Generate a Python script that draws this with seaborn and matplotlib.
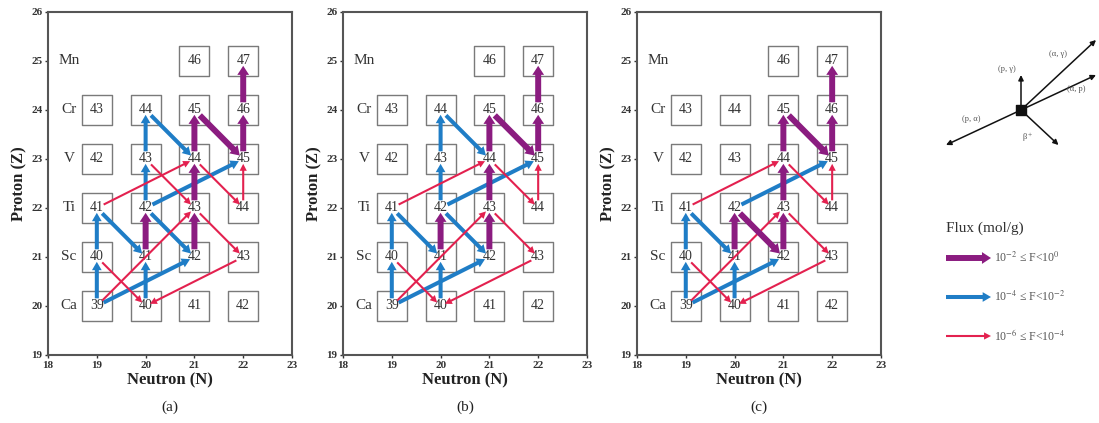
"""
Reaction flux network near the Ca-Mn region, three scenarios (a)-(c),
with a reaction key and flux legend on the right.
"""

import numpy as np
import pandas as pd
import matplotlib
matplotlib.use('Agg')
import matplotlib.pyplot as plt
import seaborn as sns
from matplotlib.patches import FancyArrowPatch

# Nuclide boxes on the chart (neutron number N, proton number Z, mass A)
elements = ['Ca', 'Sc', 'Ti', 'V', 'Cr', 'Mn']
element_z = [20, 21, 22, 23, 24, 25]
box_element = ['Ca'] * 4 + ['Sc'] * 4 + ['Ti'] * 4 + ['V'] * 4 + ['Cr'] * 4 + ['Mn'] * 2
box_n = [19, 20, 21, 22] * 5 + [21, 22]
box_z = [20] * 4 + [21] * 4 + [22] * 4 + [23] * 4 + [24] * 4 + [25] * 2
box_mass = [39, 40, 41, 42,
            40, 41, 42, 43,
            41, 42, 43, 44,
            42, 43, 44, 45,
            43, 44, 45, 46,
            46, 47]

# Flux arrows per panel: (from, to, flux class)
flows_a = [
    ('Sc41', 'Ti42', 'high'), ('Sc42', 'Ti43', 'high'), ('Ti43', 'V44', 'high'),
    ('V44', 'Cr45', 'high'), ('Cr45', 'V45', 'high'), ('V45', 'Cr46', 'high'),
    ('Cr46', 'Mn47', 'high'),
    ('Ca39', 'Sc40', 'mid'), ('Sc40', 'Ti41', 'mid'), ('Ti41', 'Sc41', 'mid'),
    ('Ca40', 'Sc41', 'mid'), ('Ca39', 'Sc42', 'mid'), ('Ti42', 'V43', 'mid'),
    ('V43', 'Cr44', 'mid'), ('Cr44', 'V44', 'mid'), ('Ti42', 'Sc42', 'mid'),
    ('Ti42', 'V45', 'mid'),
    ('Ti41', 'V44', 'low'), ('Ca39', 'Ti43', 'low'), ('Sc40', 'Ca40', 'low'),
    ('Sc43', 'Ca40', 'low'), ('Ti43', 'Sc43', 'low'), ('V43', 'Ti43', 'low'),
    ('V44', 'Ti44', 'low'), ('Ti44', 'V45', 'low'),
]
flows_b = [
    ('Sc41', 'Ti42', 'high'), ('Sc42', 'Ti43', 'high'), ('Ti43', 'V44', 'high'),
    ('V44', 'Cr45', 'high'), ('Cr45', 'V45', 'high'), ('V45', 'Cr46', 'high'),
    ('Cr46', 'Mn47', 'high'),
    ('Ca39', 'Sc40', 'mid'), ('Sc40', 'Ti41', 'mid'), ('Ti41', 'Sc41', 'mid'),
    ('Ca40', 'Sc41', 'mid'), ('Ca39', 'Sc42', 'mid'), ('Ti42', 'V43', 'mid'),
    ('V43', 'Cr44', 'mid'), ('Cr44', 'V44', 'mid'), ('Ti42', 'Sc42', 'mid'),
    ('Ti42', 'V45', 'mid'),
    ('Ti41', 'V44', 'low'), ('Ca39', 'Ti43', 'low'), ('Sc40', 'Ca40', 'low'),
    ('Sc43', 'Ca40', 'low'), ('Ti43', 'Sc43', 'low'),
    ('V44', 'Ti44', 'low'), ('Ti44', 'V45', 'low'),
]
flows_c = [
    ('Sc41', 'Ti42', 'high'), ('Ti42', 'Sc42', 'high'), ('Sc42', 'Ti43', 'high'),
    ('Ti43', 'V44', 'high'), ('V44', 'Cr45', 'high'), ('Cr45', 'V45', 'high'),
    ('V45', 'Cr46', 'high'), ('Cr46', 'Mn47', 'high'),
    ('Ca39', 'Sc40', 'mid'), ('Sc40', 'Ti41', 'mid'), ('Ti41', 'Sc41', 'mid'),
    ('Ca40', 'Sc41', 'mid'), ('Ca39', 'Sc42', 'mid'), ('Ti42', 'V45', 'mid'),
    ('Ti41', 'V44', 'low'), ('Ca39', 'Ti43', 'low'), ('Sc40', 'Ca40', 'low'),
    ('Sc43', 'Ca40', 'low'), ('Ti43', 'Sc43', 'low'),
    ('V44', 'Ti44', 'low'), ('Ti44', 'V45', 'low'),
]
panel_labels = ['(a)', '(b)', '(c)']

# Reaction key: change in N and Z for each reaction type
react_labels = ['(p, γ)', '(α, γ)', '(α, p)', '(p, α)', 'β$^+$']
react_dn = [0, 2, 2, -2, 1]
react_dz = [1, 2, 1, -1, -1]

# Flux legend
flux_levels = ['high', 'mid', 'low']
flux_texts = ['10$^{-2}$ ≤ F<10$^{0}$', '10$^{-4}$ ≤ F<10$^{-2}$', '10$^{-6}$ ≤ F<10$^{-4}$']

# Styles
flux_style = {
    'high': dict(color='#8b1c80', tail=4.3, hw=8.5, hl=6.5, z=6),
    'mid': dict(color='#1f7dc6', tail=2.9, hw=7.0, hl=6.0, z=4),
    'low': dict(color='#e3214f', tail=1.5, hw=5.2, hl=5.0, z=5),
}

sns.set_theme(style='ticks')
plt.rcParams['font.family'] = ['Liberation Serif', 'DejaVu Serif']
plt.rcParams['mathtext.fontset'] = 'stix'

box_df = pd.DataFrame({'element': box_element, 'N': box_n, 'Z': box_z, 'A': box_mass})
pos = {f"{e}{a}": (n, z) for e, a, n, z in zip(box_element, box_mass, box_n, box_z)}


def add_arrow(ax, p0, p1, level, shrink_a=5.5, shrink_b=3.5):
    st = flux_style[level]
    style = f"simple,head_length={st['hl']},head_width={st['hw']},tail_width={st['tail']}"
    arr = FancyArrowPatch(p0, p1, arrowstyle=style, mutation_scale=1,
                          shrinkA=shrink_a, shrinkB=shrink_b,
                          color=st['color'], lw=0, zorder=st['z'])
    ax.add_patch(arr)


def draw_panel(ax, flows, label):
    sns.scatterplot(data=box_df, x='N', y='Z', marker='s', s=445,
                    facecolors='white', edgecolors='#7a7a7a', linewidth=1.0,
                    legend=False, ax=ax, zorder=2)
    for _, r in box_df.iterrows():
        ax.text(r['N'], r['Z'], str(r['A']), ha='center', va='center',
                fontsize=10, color='#333333', zorder=3)
    for el, z in zip(elements, element_z):
        ax.text(18.43, z, el, ha='center', va='center', fontsize=11,
                color='#333333', zorder=3)
    for src, dst, level in flows:
        add_arrow(ax, pos[src], pos[dst], level)

    ax.set_xlim(18, 23)
    ax.set_ylim(19, 26)
    ax.set_xticks(range(18, 24))
    ax.set_yticks(range(19, 27))
    ax.tick_params(direction='out', length=2.5, width=1, labelsize=8,
                   pad=1.5, colors='#333333')
    for t in ax.get_xticklabels() + ax.get_yticklabels():
        t.set_fontweight('bold')
    for sp in ax.spines.values():
        sp.set_visible(True)
        sp.set_linewidth(1.5)
        sp.set_color('#555555')
    ax.set_xlabel('Neutron (N)', fontsize=12, fontweight='bold', labelpad=2, color='#222222')
    ax.set_ylabel('Proton (Z)', fontsize=12, fontweight='bold', labelpad=3, color='#222222')
    ax.text(0.5, -0.152, label, transform=ax.transAxes, ha='center', va='center',
            fontsize=11, color='#222222')


fig = plt.figure(figsize=(10.99, 4.23), dpi=100)
panel_left = [0.0437, 0.3121, 0.5796]
for left, flows, label in zip(panel_left, [flows_a, flows_b, flows_c], panel_labels):
    ax = fig.add_axes([left, 0.1608, 0.222, 0.8109])
    draw_panel(ax, flows, label)

# Key area in pixel-like coordinates
key = fig.add_axes([920 / 1099, 0, 179 / 1099, 1])
key.set_xlim(920, 1099)
key.set_ylim(423, 0)
key.axis('off')

# Reaction schematic
cx, cy = 1021, 110
sx, sy = 37.5, 35
label_off = [(-14, -22), (-4, -18), (14, -2), (-8, -10), (-14, 8)]
for lab, dn, dz, (ox, oy) in zip(react_labels, react_dn, react_dz, label_off):
    ex, ey = cx + dn * sx, cy - dz * sy
    key.annotate('', xy=(ex, ey), xytext=(cx, cy),
                 arrowprops=dict(arrowstyle='-|>,head_length=0.5,head_width=0.25',
                                 mutation_scale=6, lw=1.1, color='#111111',
                                 shrinkA=0, shrinkB=0))
    mx, my = cx + dn * sx * 0.55, cy - dz * sy * 0.55
    key.text(mx + ox, my + oy, lab, fontsize=6, color='#555555',
             ha='center', va='center')
key.scatter([cx], [cy], marker='s', s=45, color='#111111', zorder=5)

# Flux legend
key.text(985, 228, 'Flux (mol/g)', fontsize=11, ha='center', va='center', color='#333333')
for i, (level, txt) in enumerate(zip(flux_levels, flux_texts)):
    y = 258 + i * 39
    add_arrow(key, (946, y), (991, y), level, shrink_a=0, shrink_b=0)
    key.text(994, y, txt, fontsize=8.5, ha='left', va='center', color='#555555')

fig.savefig('out.png', dpi=100)
